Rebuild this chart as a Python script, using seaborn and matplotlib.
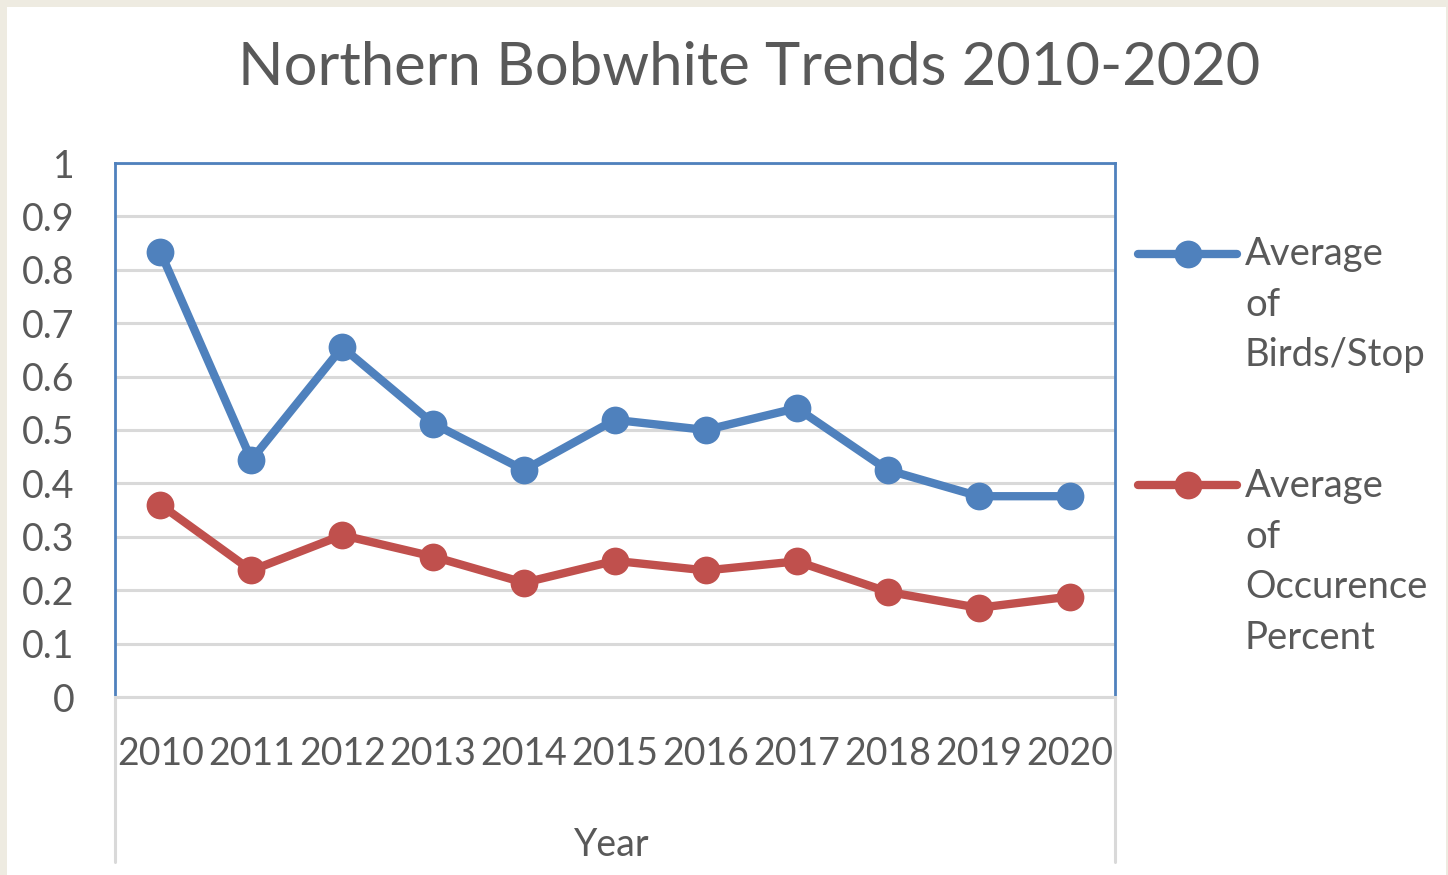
import numpy as np
import pandas as pd
import matplotlib
matplotlib.use("Agg")
import matplotlib.pyplot as plt
import seaborn as sns
from matplotlib.lines import Line2D
from matplotlib.patches import Rectangle
from matplotlib.legend_handler import HandlerLine2D
from matplotlib.ticker import FuncFormatter

# ---- data ----
years = [2010, 2011, 2012, 2013, 2014, 2015, 2016, 2017, 2018, 2019, 2020]
birds_per_stop = [0.833, 0.444, 0.655, 0.512, 0.425, 0.519, 0.500, 0.541, 0.425, 0.376, 0.376]
occurrence_pct = [0.360, 0.237, 0.303, 0.263, 0.214, 0.255, 0.237, 0.254, 0.197, 0.167, 0.188]
series_names = ["Average\nof\nBirds/Stop", "Average\nof\nOccurence\nPercent"]
series_colors = ["#4F81BD", "#C0504D"]
title = "Northern Bobwhite Trends 2010-2020"
x_label = "Year"
y_ticks = [0, 0.1, 0.2, 0.3, 0.4, 0.5, 0.6, 0.7, 0.8, 0.9, 1.0]

df = pd.DataFrame({
    "Year": years * 2,
    "Value": birds_per_stop + occurrence_pct,
    "Series": [series_names[0]] * len(years) + [series_names[1]] * len(years),
})

sns.set_theme(style="white")
FONT = ["Lato", "DejaVu Sans"]
plt.rcParams["font.family"] = FONT
TXT = "#595959"
GRID = "#D9D9D9"

W, H = 1448, 875
fig = plt.figure(figsize=(W / 100, H / 100), dpi=100)
fig.patch.set_facecolor("#EEEBE1")
fig.add_artist(Rectangle((7 / W, 0), (1446 - 7) / W, (H - 7) / H, transform=fig.transFigure,
                         facecolor="white", edgecolor="none", zorder=-10))

ax_l, ax_r, ax_t, ax_b = 115, 1115, 163, 697
ax = fig.add_axes([ax_l / W, 1 - ax_b / H, (ax_r - ax_l) / W, (ax_b - ax_t) / H])

sns.lineplot(data=df, x="Year", y="Value", hue="Series", style="Series",
             palette=series_colors, markers=["o", "o"], dashes=False,
             linewidth=6, markersize=20, markeredgewidth=0, legend=False, ax=ax, zorder=3)

ax.set_xlim(years[0] - 0.5, years[-1] + 0.5)
ax.set_ylim(0, 1)
ax.set_xticks(years)
ax.set_xticklabels([str(y) for y in years])
ax.set_yticks(y_ticks)
ax.yaxis.set_major_formatter(FuncFormatter(lambda v, p: f"{v:g}"))
ax.set_xlabel("")
ax.set_ylabel("")
ax.tick_params(axis="both", length=0, labelsize=27, labelcolor=TXT)
ax.tick_params(axis="y", pad=29)
ax.tick_params(axis="x", pad=28)
ax.yaxis.grid(True, color=GRID, linewidth=2.2)
ax.xaxis.grid(False)
ax.set_axisbelow(True)
for s in ["left", "top", "right"]:
    ax.spines[s].set_color("#4F81BD")
    ax.spines[s].set_linewidth(2)
ax.spines["bottom"].set_color(GRID)
ax.spines["bottom"].set_linewidth(2.2)

# category axis frame lines below plot
for xp in (ax_l, ax_r):
    fig.add_artist(Line2D([xp / W, xp / W], [1 - ax_b / H, 1 - 862 / H], transform=fig.transFigure,
                          color=GRID, linewidth=2.2))

fig.text(749 / W, 1 - 68 / H, title, ha="center", va="center", fontsize=43, color=TXT)
fig.text(612 / W, 1 - 845 / H, x_label, ha="center", va="center", fontsize=27, color=TXT)


class TopHandler(HandlerLine2D):
    def __init__(self, shift, **kw):
        super().__init__(**kw)
        self.shift = shift

    def create_artists(self, legend, orig_handle, xdescent, ydescent, width, height, fontsize, trans):
        arts = super().create_artists(legend, orig_handle, xdescent, ydescent, width, height, fontsize, trans)
        for a in arts:
            a.set_ydata(np.asarray(a.get_ydata(), dtype=float) + self.shift)
        return arts


LINE_PT = 37.4
handles = ax.lines[:2]
hmap = {h: TopHandler((lab.count("\n")) / 2 * LINE_PT) for h, lab in zip(handles, series_names)}
leg = fig.legend(handles, series_names, handler_map=hmap, loc="upper left",
                 bbox_to_anchor=(1138 / W, 1 - 236 / H), frameon=False, fontsize=27.5,
                 handlelength=2.6, handletextpad=0.2, labelspacing=2.5, borderpad=0,
                 borderaxespad=0, labelcolor=TXT)
for t in leg.get_texts():
    t.set_linespacing(1.5)

fig.savefig("out.png", dpi=100, facecolor=fig.get_facecolor())
